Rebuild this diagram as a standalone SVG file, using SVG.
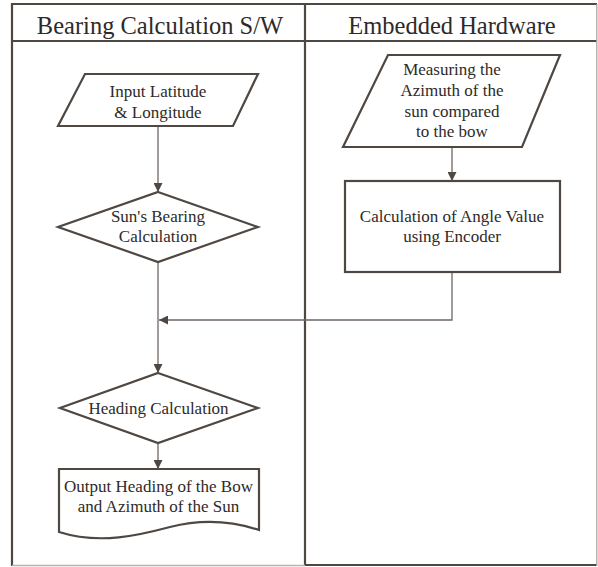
<svg xmlns="http://www.w3.org/2000/svg" width="598" height="567" viewBox="0 0 598 567">
<style>
.frame{stroke:#4e4742;stroke-width:2.2;fill:none}
.shape{stroke:#4e4742;stroke-width:2.2;fill:#fff;stroke-linejoin:miter}
.conn{stroke:#6e6763;stroke-width:1.3;fill:none}
text{font-family:"Liberation Serif","Times New Roman",serif;fill:#2e2a28;text-anchor:middle}
.t{font-size:17px}
.h{font-size:24.5px}
</style>
<defs>
<marker id="arr" viewBox="0 0 10 10" refX="10" refY="5" markerWidth="9" markerHeight="9" markerUnits="userSpaceOnUse" orient="auto">
<path d="M0,0 L10,5 L0,10 Z" fill="#4e4742"/>
</marker>
</defs>
<rect x="0" y="0" width="598" height="567" fill="#fff"/>
<g id="swimlanes">
<line class="frame" x1="12" y1="4" x2="597" y2="4"/>
<line class="frame" x1="12" y1="3" x2="12" y2="566"/>
<line class="frame" x1="12" y1="41" x2="597" y2="41"/>
<line class="frame" x1="305" y1="4" x2="305" y2="566"/>
<line x1="12" y1="565.5" x2="305" y2="565.5" stroke="#b8b4b1" stroke-width="1.5"/>
<line class="frame" x1="305" y1="565" x2="597" y2="565"/>
<line x1="596.8" y1="4" x2="596.8" y2="566" stroke="#aaa6a3" stroke-width="1.3"/>
<text class="h" x="160" y="33.5">Bearing Calculation S/W</text>
<text class="h" x="452" y="33.5">Embedded Hardware</text>
</g>
<g id="connectors">
<line class="conn" x1="158" y1="126" x2="158" y2="192" marker-end="url(#arr)"/>
<line class="conn" x1="158" y1="262" x2="158" y2="373" marker-end="url(#arr)"/>
<line class="conn" x1="452" y1="147" x2="452" y2="181" marker-end="url(#arr)"/>
<polyline class="conn" points="452,272 452,320 159,320" marker-end="url(#arr)"/>
<line class="conn" x1="158" y1="443" x2="158" y2="469" marker-end="url(#arr)"/>
</g>
<g id="input">
<polygon class="shape" points="85,74 258,74 233,126 58,126"/>
<text class="t" x="158" y="96.5">Input Latitude</text>
<text class="t" x="158" y="117.5">&amp; Longitude</text>
</g>
<g id="bearing">
<polygon class="shape" points="158,192 258,227 158,262 58,227"/>
<text class="t" x="158" y="222">Sun's Bearing</text>
<text class="t" x="158" y="242">Calculation</text>
</g>
<g id="heading">
<polygon class="shape" points="158,373 258,408 158,443 60,408"/>
<text class="t" x="158.5" y="413.5">Heading Calculation</text>
</g>
<g id="output">
<path class="shape" d="M59,469 H259 V530 C235,522 205,518 170,527 C140,535 100,545 59,532 Z"/>
<text class="t" x="158.5" y="491.5">Output Heading of the Bow</text>
<text class="t" x="158.5" y="512">and Azimuth of the Sun</text>
</g>
<g id="measuring">
<polygon class="shape" points="388,55 560,55 522,147 343,147"/>
<text class="t" x="452" y="75">Measuring the</text>
<text class="t" x="452" y="96">Azimuth of the</text>
<text class="t" x="452" y="116.5">sun compared</text>
<text class="t" x="452" y="137">to the bow</text>
</g>
<g id="encoder">
<rect class="shape" x="345" y="181" width="215" height="91"/>
<text class="t" x="452" y="222">Calculation of Angle Value</text>
<text class="t" x="452" y="242">using Encoder</text>
</g>
</svg>
